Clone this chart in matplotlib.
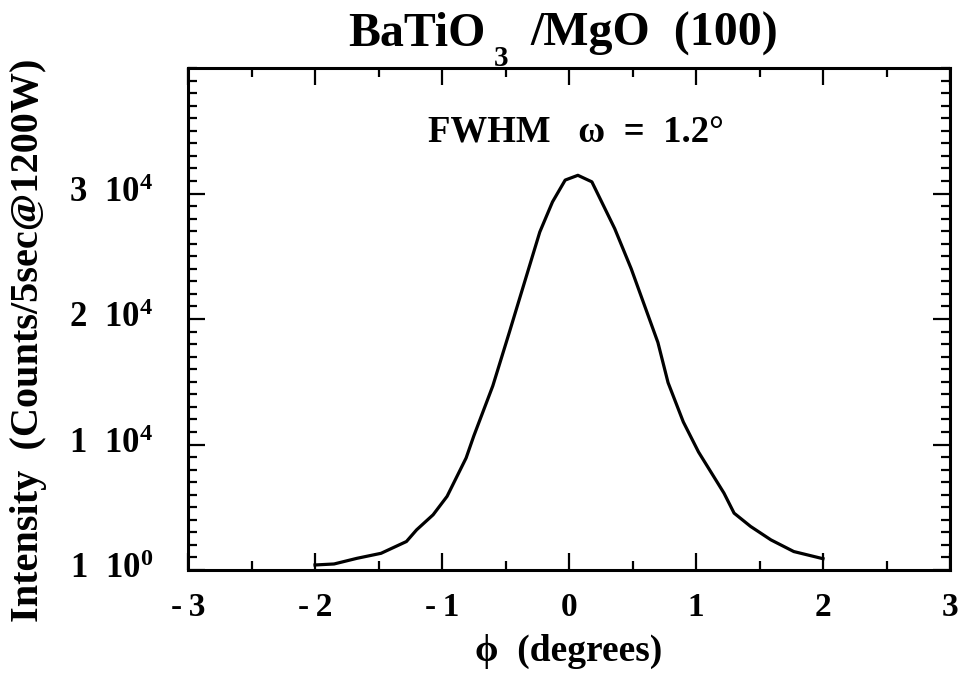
import matplotlib
matplotlib.use("Agg")
import matplotlib.pyplot as plt
import matplotlib.transforms as mtransforms
from matplotlib.ticker import MultipleLocator, FixedLocator, FixedFormatter

plt.rcParams['font.family'] = ['Liberation Serif', 'DejaVu Serif']
plt.rcParams['font.weight'] = 'bold'
plt.rcParams['mathtext.fontset'] = 'custom'
plt.rcParams['mathtext.rm'] = 'Liberation Serif:bold'
plt.rcParams['mathtext.bf'] = 'Liberation Serif:bold'
plt.rcParams['mathtext.it'] = 'Liberation Serif:bold:italic'

# data
phi_deg = [-2.0, -1.85, -1.67, -1.48, -1.28, -1.20, -1.07, -0.96, -0.81, -0.75,
           -0.60, -0.47, -0.39, -0.23, -0.13, -0.03, 0.07, 0.18, 0.36, 0.49,
           0.70, 0.78, 0.90, 1.02, 1.22, 1.30, 1.43, 1.59, 1.77, 2.0]
intensity = [400, 480, 930, 1330, 2270, 3200, 4400, 5870, 8930, 10670,
             14670, 18930, 21600, 26930, 29330, 31070, 31450, 30930, 27200, 24000,
             18130, 14930, 11800, 9400, 6130, 4530, 3470, 2400, 1470, 900]

ytick_values = [0, 10000, 20000, 30000]
ytick_labels = [r'$1\ \ 10^{0}$', r'$1\ \ 10^{4}$', r'$2\ \ 10^{4}$', r'$3\ \ 10^{4}$']
xtick_values = [-3, -2, -1, 0, 1, 2, 3]
xtick_labels = ['-\u20093', '-\u20092', '-\u20091', '0', '1', '2', '3']

W, H = 966, 679
fig = plt.figure(figsize=(W / 100, H / 100), dpi=100)
L, R, T, B = 188, 950, 68, 570
ax = fig.add_axes([L / W, 1 - B / H, (R - L) / W, (B - T) / H])

ax.plot(phi_deg, intensity, color='black', lw=2.3, solid_joinstyle='round')

ax.set_xlim(-3, 3)
ax.set_ylim(0, 40000)
ax.xaxis.set_major_locator(FixedLocator(xtick_values))
ax.xaxis.set_major_formatter(FixedFormatter(xtick_labels))
ax.xaxis.set_minor_locator(MultipleLocator(0.5))
ax.yaxis.set_major_locator(FixedLocator(ytick_values))
ax.yaxis.set_major_formatter(FixedFormatter(ytick_labels))
ax.yaxis.set_minor_locator(MultipleLocator(1000))

for s in ax.spines.values():
    s.set_linewidth(2.2)
ax.tick_params(which='both', direction='in', top=True, right=True, width=1.6, colors='black')
ax.tick_params(which='major', length=12)
ax.tick_params(which='minor', length=6.5)
ax.tick_params(axis='x', which='major', pad=16, labelsize=24)
ax.tick_params(axis='y', which='major', pad=25, labelsize=25)

offset = mtransforms.ScaledTranslation(0, 3 / 72, fig.dpi_scale_trans)
for lab in ax.get_yticklabels():
    lab.set_transform(lab.get_transform() + offset)

ax.set_xlabel('ϕ  (degrees)', fontsize=27, fontweight='bold', labelpad=8)
ax.set_ylabel('Intensity  (Counts/5sec@1200W)', fontsize=29, fontweight='bold')
ax.yaxis.set_label_coords((47 - L) / (R - L), (B - 340) / (B - T))

ax.text((576 - L) / (R - L), (B - 133) / (B - T), 'FWHM   ω  =  1.2°', transform=ax.transAxes,
        ha='center', va='center', fontsize=26.5, fontweight='bold')

# title in pieces (subscript dropped low as in the original)
fig.text(486 / W, 1 - 46 / H, 'BaTiO', ha='right', va='baseline', fontsize=34.5, fontweight='bold')
fig.text(501 / W, 1 - 66 / H, '3', ha='center', va='baseline', fontsize=21, fontweight='bold')
fig.text(530 / W, 1 - 46 / H, '/MgO  (100)', ha='left', va='baseline', fontsize=34.5, fontweight='bold')

fig.savefig('out.png', dpi=100)
